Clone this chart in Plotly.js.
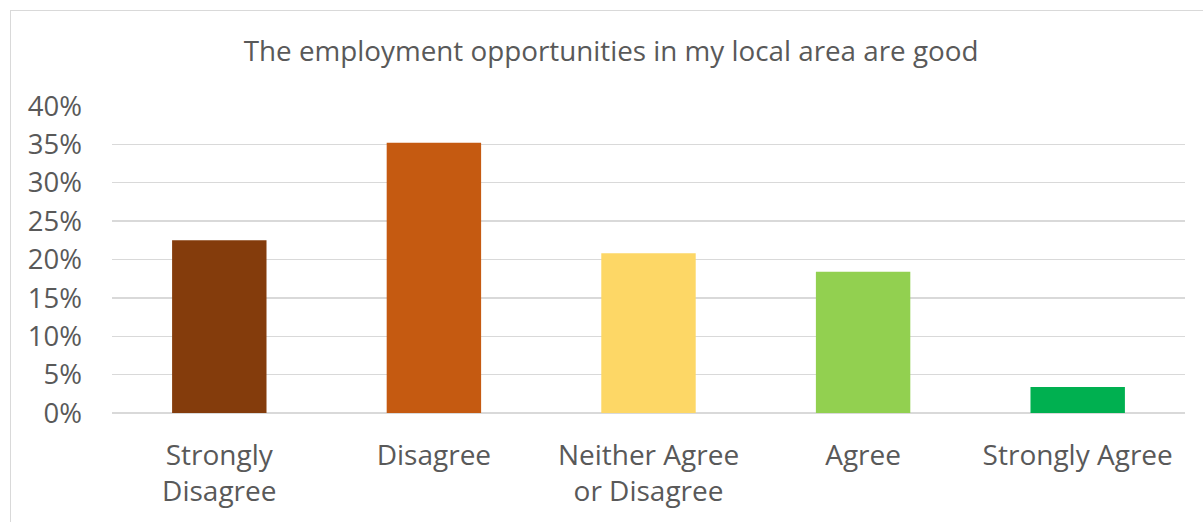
<!DOCTYPE html>
<html>
<head>
<meta charset="utf-8">
<script src="https://cdn.plot.ly/plotly-3.0.1.min.js"></script>
<style>
html,body{margin:0;padding:0;background:#fff;}
#wrap{position:relative;width:1203px;height:522px;overflow:hidden;}
#chart{width:1203px;height:522px;}
#frame{position:absolute;left:10px;top:10px;width:1220px;height:540px;border:1px solid #D9D9D9;pointer-events:none;}
</style>
</head>
<body>
<div id="wrap"><div id="chart"></div><div id="frame"></div></div>
<script>
const categories = ["Strongly<br>Disagree", "Disagree", "Neither Agree<br>or Disagree", "Agree", "Strongly Agree"];
const values = [0.225, 0.352, 0.208, 0.184, 0.034];
const colors = ["#843C0C", "#C55A11", "#FDD766", "#92D050", "#00B050"];
const yTickVals = [0, 0.05, 0.10, 0.15, 0.20, 0.25, 0.30, 0.35, 0.40];
const yTickText = ["0%", "5%", "10%", "15%", "20%", "25%", "30%", "35%", "40%"];

const trace = {
  type: "bar",
  x: categories,
  y: values,
  marker: {color: colors, line: {width: 0}},
  hoverinfo: "none"
};

const layout = {
  width: 1203, height: 522,
  margin: {l: 112, r: 18, t: 106, b: 109},
  paper_bgcolor: "#fff", plot_bgcolor: "#fff",
  font: {family: "Open Sans, sans-serif", color: "#595959", size: 27},
  title: {text: "The employment opportunities in my local area are good", x: 0.508, xref: "container", xanchor: "center", y: 0.902, yref: "container", yanchor: "middle", font: {size: 27.8, color: "#595959"}},
  bargap: 0.56,
  showlegend: false,
  xaxis: {type: "category", showgrid: false, zeroline: false, showline: false, ticks: "", ticklabelstandoff: 23, tickfont: {size: 28, color: "#595959"}, fixedrange: true},
  yaxis: {range: [0, 0.40], tickvals: yTickVals, ticktext: yTickText, showgrid: true, gridcolor: "#D9D9D9", gridwidth: 1.3, zeroline: true, zerolinecolor: "#D9D9D9", zerolinewidth: 1.3, showline: false, ticks: "", ticklabelstandoff: 29, tickfont: {size: 27.5, color: "#595959"}, fixedrange: true}
};

Plotly.newPlot("chart", [trace], layout, {staticPlot: true, displayModeBar: false});
</script>
</body>
</html>
